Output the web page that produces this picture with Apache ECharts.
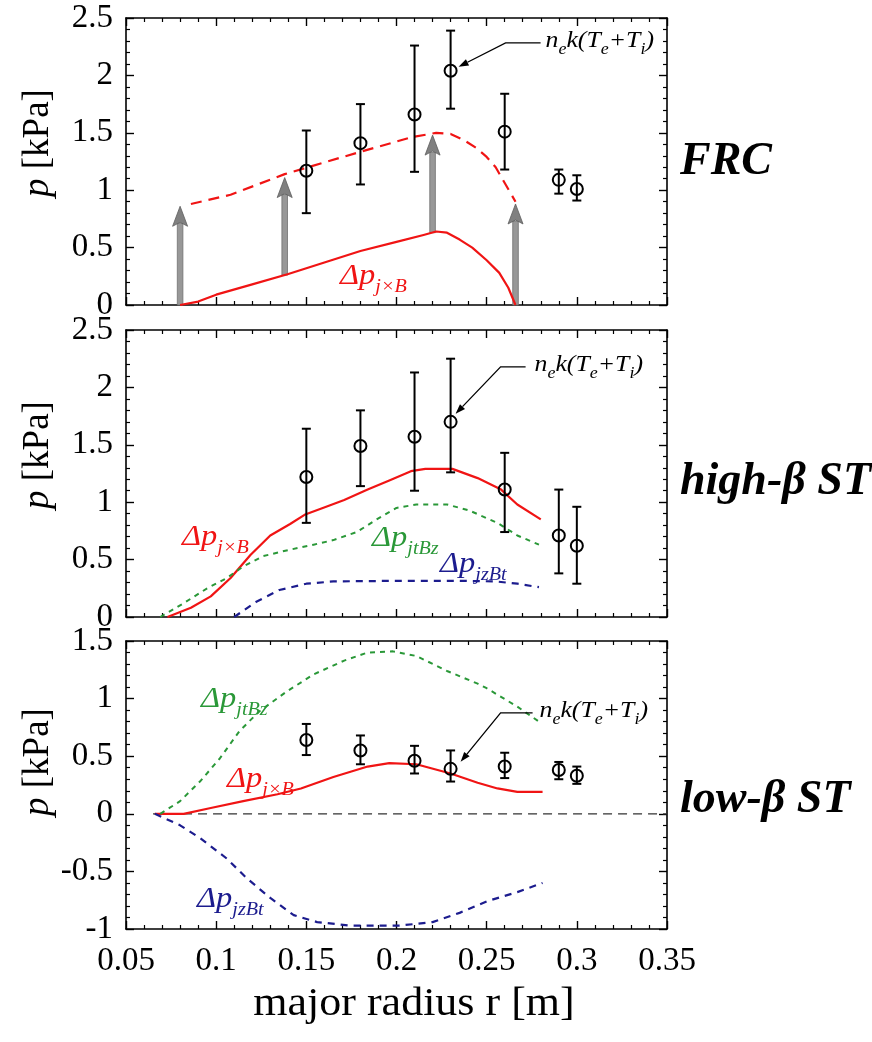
<!DOCTYPE html>
<html>
<head>
<meta charset="utf-8">
<script src="https://cdn.jsdelivr.net/npm/echarts@6/dist/echarts.min.js"></script>
<style>
html, body { margin: 0; padding: 0; background: #fff; }
#chart { width: 872px; height: 1042px; }
</style>
</head>
<body>
<div id="chart"></div>
<script>
// ---- axes ----
const xMin = 0.05, xMax = 0.35, xStep = 0.05;
const yRanges = [[0, 2.5], [0, 2.5], [-1, 1.5]];
const panelNames = ['FRC', 'high-β ST', 'low-β ST'];

// ---- measured n_e k(Te+Ti): radius, value, error-bar low, error-bar high ----
const measR = [0.15, 0.18, 0.21, 0.23, 0.26, 0.29, 0.30];
const frcP  = [1.17, 1.41, 1.66, 2.04, 1.51, 1.09, 1.01];
const frcLo = [0.80, 1.05, 1.16, 1.71, 1.18, 0.97, 0.91];
const frcHi = [1.52, 1.75, 2.26, 2.39, 1.84, 1.18, 1.13];
const hiP   = [1.22, 1.49, 1.57, 1.70, 1.11, 0.71, 0.62];
const hiLo  = [0.82, 1.14, 1.10, 1.26, 0.74, 0.38, 0.29];
const hiHi  = [1.64, 1.80, 2.13, 2.25, 1.43, 1.11, 0.96];
const loP   = [0.64, 0.55, 0.46, 0.39, 0.41, 0.38, 0.33];
const loLo  = [0.51, 0.43, 0.35, 0.28, 0.31, 0.30, 0.26];
const loHi  = [0.78, 0.68, 0.59, 0.55, 0.53, 0.45, 0.41];

// ---- FRC: Δp(j×B) and Δp(j×B) shifted up by the offset arrows ----
const frcJxBR = [0.080, 0.090, 0.100, 0.120, 0.140, 0.160, 0.180, 0.200, 0.215, 0.222, 0.228, 0.235, 0.242, 0.250, 0.257, 0.262, 0.266];
const frcJxBP = [0.00, 0.03, 0.09, 0.18, 0.27, 0.37, 0.47, 0.55, 0.61, 0.64, 0.63, 0.57, 0.50, 0.39, 0.28, 0.15, 0.00];
const frcShiftR = [0.086, 0.108, 0.138, 0.179, 0.208, 0.222, 0.230, 0.237, 0.244, 0.250, 0.255, 0.259, 0.266];
const frcShiftP = [0.88, 0.96, 1.14, 1.33, 1.46, 1.50, 1.49, 1.44, 1.37, 1.29, 1.20, 1.09, 0.90];
const arrowR    = [0.080, 0.138, 0.220, 0.266];
const arrowFrom = [0.00, 0.26, 0.63, 0.00];
const arrowTo   = [0.86, 1.11, 1.48, 0.88];

// ---- high-beta ST ----
const hiJxBR = [0.073, 0.086, 0.097, 0.108, 0.119, 0.130, 0.141, 0.149, 0.161, 0.171, 0.184, 0.196, 0.208, 0.216, 0.231, 0.245, 0.258, 0.267, 0.280];
const hiJxBP = [0.00, 0.08, 0.18, 0.34, 0.54, 0.71, 0.81, 0.89, 0.96, 1.02, 1.11, 1.19, 1.27, 1.29, 1.29, 1.21, 1.11, 0.98, 0.85];
const hiJtBzR = [0.069, 0.082, 0.095, 0.106, 0.115, 0.126, 0.139, 0.154, 0.165, 0.178, 0.189, 0.200, 0.211, 0.228, 0.240, 0.256, 0.267, 0.279];
const hiJtBzP = [0.00, 0.12, 0.25, 0.34, 0.44, 0.53, 0.58, 0.63, 0.67, 0.74, 0.85, 0.95, 0.98, 0.98, 0.93, 0.82, 0.71, 0.63];
const hiJzBtR = [0.110, 0.122, 0.135, 0.150, 0.165, 0.200, 0.235, 0.255, 0.267, 0.279];
const hiJzBtP = [0.00, 0.13, 0.235, 0.29, 0.31, 0.315, 0.315, 0.31, 0.29, 0.26];

// ---- low-beta ST ----
const loJxBR = [0.066, 0.082, 0.097, 0.115, 0.134, 0.147, 0.165, 0.184, 0.196, 0.211, 0.230, 0.245, 0.256, 0.267, 0.281];
const loJxBP = [0.00, 0.00, 0.05, 0.11, 0.17, 0.22, 0.32, 0.41, 0.44, 0.43, 0.35, 0.27, 0.22, 0.19, 0.19];
const loJtBzR = [0.069, 0.080, 0.091, 0.102, 0.113, 0.124, 0.139, 0.154, 0.171, 0.184, 0.198, 0.211, 0.228, 0.245, 0.250, 0.267, 0.279];
const loJtBzP = [0.00, 0.11, 0.28, 0.48, 0.72, 0.89, 1.06, 1.21, 1.33, 1.40, 1.41, 1.37, 1.24, 1.13, 1.09, 0.93, 0.80];
const loJzBtR = [0.066, 0.080, 0.091, 0.106, 0.117, 0.130, 0.143, 0.156, 0.174, 0.202, 0.220, 0.235, 0.250, 0.267, 0.281];
const loJzBtP = [0.00, -0.10, -0.21, -0.39, -0.56, -0.73, -0.88, -0.94, -0.97, -0.97, -0.94, -0.86, -0.76, -0.68, -0.60];
const zeroR = [0.065, 0.35];
const zeroP = [0, 0];

// ---- styling ----
const FAMILY = 'Liberation Serif';
const RED = '#f01414', GREEN = '#2a9838', BLUE = '#1c1c8e';
const grids = [
  { left: 126, top: 18,  width: 541, height: 287 },
  { left: 126, top: 330, width: 541, height: 287 },
  { left: 126, top: 641, width: 541, height: 288 }
];
// full CSS font shorthand for a text element
const font = (size, style, weight) => (style || 'normal') + ' ' + (weight || 'normal') + ' ' + size + 'px "' + FAMILY + '"';

const zip = (a, b) => a.map((v, i) => [v, b[i]]);
const fmtX = v => String(+v.toFixed(2));
const fmtY = v => String(+v.toFixed(1));

function axisCommon() {
  return {
    type: 'value',
    axisLine: { show: true, onZero: false, lineStyle: { color: '#000', width: 1.6 } },
    axisTick: { show: true, inside: true, length: 8, lineStyle: { color: '#000', width: 1.4 } },
    minorTick: { show: true, splitNumber: 5, length: 4, lineStyle: { color: '#000', width: 1.2 } },
    splitLine: { show: false },
    minorSplitLine: { show: false }
  };
}

const xAxes = [], yAxes = [];
for (let pos = 0; pos < 2; pos++) {
  grids.forEach((g, i) => {
    xAxes.push(Object.assign(axisCommon(), {
      gridIndex: i, position: pos ? 'top' : 'bottom',
      min: xMin, max: xMax, interval: xStep,
      axisLabel: {
        show: pos === 0 && i === 2, margin: 16, formatter: fmtX,
        fontFamily: FAMILY, fontSize: 33, color: '#000'
      }
    }));
  });
}
for (let pos = 0; pos < 2; pos++) {
  grids.forEach((g, i) => {
    yAxes.push(Object.assign(axisCommon(), {
      gridIndex: i, position: pos ? 'right' : 'left',
      min: yRanges[i][0], max: yRanges[i][1], interval: 0.5,
      axisLabel: {
        show: pos === 0, margin: 13, formatter: fmtY,
        fontFamily: FAMILY, fontSize: 33, color: '#000'
      }
    }));
  });
}

// error bars with open circles
function errorBarItem(params, api) {
  const r = api.value(0);
  const c = api.coord([r, api.value(1)]);
  const lo = api.coord([r, api.value(2)]);
  const hi = api.coord([r, api.value(3)]);
  const cap = 4.5, st = { stroke: '#000', lineWidth: 2 };
  return {
    type: 'group', children: [
      { type: 'line', shape: { x1: lo[0], y1: lo[1], x2: hi[0], y2: hi[1] }, style: st },
      { type: 'line', shape: { x1: lo[0] - cap, y1: lo[1], x2: lo[0] + cap, y2: lo[1] }, style: st },
      { type: 'line', shape: { x1: hi[0] - cap, y1: hi[1], x2: hi[0] + cap, y2: hi[1] }, style: st },
      { type: 'circle', shape: { cx: c[0], cy: c[1], r: 6 }, style: { fill: 'rgba(255,255,255,0)', stroke: '#000', lineWidth: 2 } }
    ]
  };
}

// grey vertical offset arrows
function offsetArrowItem(params, api) {
  const r = api.value(0);
  const b = api.coord([r, api.value(1)]);
  const t = api.coord([r, api.value(2)]);
  const hw = 7.5, hl = 20, sw = 2.8;
  return {
    type: 'group', children: [
      { type: 'rect', shape: { x: b[0] - sw, y: t[1] + hl - 3, width: 2 * sw, height: b[1] - t[1] - hl + 3 },
        style: { fill: '#989898', stroke: '#707070', lineWidth: 0.8 } },
      { type: 'polygon', shape: { points: [[t[0], t[1]], [t[0] - hw, t[1] + hl], [t[0], t[1] + hl - 4], [t[0] + hw, t[1] + hl]] },
        style: { fill: '#808080', stroke: '#5e5e5e', lineWidth: 0.8 } }
    ]
  };
}

// leader line + label "n_e k(Te+Ti)" pointing at one measured point
const noteRich = {
  m: { fontFamily: FAMILY, fontStyle: 'italic', fontSize: 23, lineHeight: 23, verticalAlign: 'top', fill: '#000' },
  s: { fontFamily: FAMILY, fontStyle: 'italic', fontSize: 16, lineHeight: 28, verticalAlign: 'bottom', fill: '#000' }
};
function noteItem(off) {
  return function (params, api) {
    const c = api.coord([api.value(0), api.value(1)]);
    const tip = [c[0] + off.tip[0], c[1] + off.tip[1]];
    const elb = [c[0] + off.elbow[0], c[1] + off.elbow[1]];
    const end = [c[0] + off.end, c[1] + off.elbow[1]];
    const dx = tip[0] - elb[0], dy = tip[1] - elb[1], L = Math.hypot(dx, dy);
    const ux = dx / L, uy = dy / L, hl = 10, hw = 3.5;
    const bx = tip[0] - ux * hl, by = tip[1] - uy * hl;
    return {
      type: 'group', children: [
        { type: 'polyline', shape: { points: [end, elb, [bx, by]] }, style: { stroke: '#000', lineWidth: 1.3, fill: null } },
        { type: 'polygon', shape: { points: [tip, [bx - uy * hw, by + ux * hw], [bx + uy * hw, by - ux * hw]] }, style: { fill: '#000' } },
        { type: 'text', x: c[0] + off.text, y: c[1] + off.elbow[1] + 1, scaleX: 1.12,
          style: { text: '{m|n}{s|e}{m|k(T}{s|e}{m|+T}{s|i}{m|)}', rich: noteRich, align: 'left', verticalAlign: 'middle' } }
      ]
    };
  };
}

const series = [];
function curve(i, r, p, color, type, width) {
  series.push({
    type: 'line', xAxisIndex: i, yAxisIndex: i, data: zip(r, p),
    showSymbol: false, smooth: false, clip: false,
    lineStyle: { color: color, width: width || 2.2, type: type || 'solid', join: 'round' }
  });
}
function measured(i, p, lo, hi, off) {
  series.push({
    type: 'custom', xAxisIndex: i, yAxisIndex: i, renderItem: errorBarItem,
    encode: { x: 0, y: 1 }, data: measR.map((r, k) => [r, p[k], lo[k], hi[k]]), z: 5
  });
  series.push({
    type: 'custom', xAxisIndex: i, yAxisIndex: i, renderItem: noteItem(off), clip: false,
    encode: { x: 0, y: 1 }, data: [[measR[3], p[3]]], z: 6
  });
}

// FRC
series.push({
  type: 'custom', xAxisIndex: 0, yAxisIndex: 0, renderItem: offsetArrowItem,
  encode: { x: 0, y: [1, 2] }, data: arrowR.map((r, k) => [r, arrowFrom[k], arrowTo[k]]), z: 1
});
curve(0, frcJxBR, frcJxBP, RED, 'solid', 2.2);
curve(0, frcShiftR, frcShiftP, RED, [11, 7], 2.2);
measured(0, frcP, frcLo, frcHi, { tip: [8, -4], elbow: [55, -28], end: 90, text: 95 });
// high-beta ST
curve(1, hiJxBR, hiJxBP, RED, 'solid', 2.2);
curve(1, hiJtBzR, hiJtBzP, GREEN, [5, 5], 2);
curve(1, hiJzBtR, hiJzBtP, BLUE, [7, 6], 2.2);
measured(1, hiP, hiLo, hiHi, { tip: [5, -8], elbow: [50, -55], end: 75, text: 84 });
// low-beta ST
curve(2, zeroR, zeroP, '#333', [9, 6], 1.2);
curve(2, loJxBR, loJxBP, RED, 'solid', 2.2);
curve(2, loJtBzR, loJtBzP, GREEN, [5, 5], 2);
curve(2, loJzBtR, loJzBtP, BLUE, [7, 6], 2.2);
measured(2, loP, loLo, loHi, { tip: [10, -7], elbow: [50, -56], end: 82, text: 89 });

// curve labels Δp_sub
function deltaLabel(x, y, sub, color) {
  return {
    type: 'text', x: x, y: y, scaleX: 1.12, z: 10,
    style: {
      text: '{m|Δp}{s|' + sub + '}', align: 'left', verticalAlign: 'middle',
      rich: {
        m: { fontFamily: FAMILY, fontStyle: 'italic', fontSize: 29, lineHeight: 29, verticalAlign: 'top', fill: color },
        s: { fontFamily: FAMILY, fontStyle: 'italic', fontSize: 18, lineHeight: 35, verticalAlign: 'bottom', fill: color }
      }
    }
  };
}
function yName(y) {
  return {
    type: 'text', x: 38, y: y, rotation: Math.PI / 2, z: 10,
    style: {
      text: '{i|p}{n| [kPa]}', align: 'center', verticalAlign: 'middle',
      rich: {
        i: { fontFamily: FAMILY, fontStyle: 'italic', fontSize: 37, fill: '#000' },
        n: { fontFamily: FAMILY, fontSize: 37, fill: '#000' }
      }
    }
  };
}
function panelName(y, text) {
  return {
    type: 'text', x: 680, y: y, z: 10,
    style: { text: text, font: font(46, 'italic', 'bold'), fill: '#000', align: 'left', verticalAlign: 'middle' }
  };
}

const graphic = [
  yName(143), yName(455), yName(762),
  panelName(162, panelNames[0]), panelName(482, panelNames[1]), panelName(800, panelNames[2]),
  deltaLabel(340, 279, 'j×B', RED),
  deltaLabel(182, 540, 'j×B', RED),
  deltaLabel(372, 541, 'jtBz', GREEN),
  deltaLabel(440, 567, 'jzBt', BLUE),
  deltaLabel(201, 702, 'jtBz', GREEN),
  deltaLabel(227, 782, 'j×B', RED),
  deltaLabel(197, 902, 'jzBt', BLUE),
  {
    type: 'text', x: 414, y: 1004, scaleX: 1.1, z: 10,
    style: { text: 'major radius r [m]', font: font(40), fill: '#000', align: 'center', verticalAlign: 'middle' }
  }
];

const chart = echarts.init(document.getElementById('chart'));
chart.setOption({
  animation: false,
  backgroundColor: '#fff',
  textStyle: { fontFamily: FAMILY },
  grid: grids,
  xAxis: xAxes,
  yAxis: yAxes,
  series: series,
  graphic: graphic
});
</script>
</body>
</html>
